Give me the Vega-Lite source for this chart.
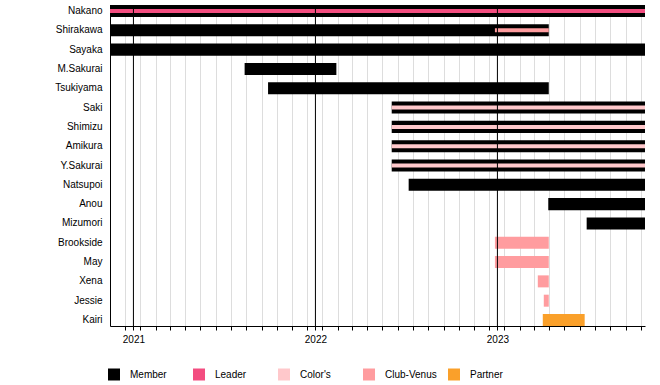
{
  "$schema": "https://vega.github.io/schema/vega-lite/v6.json",
  "width": 535,
  "height": 321,
  "autosize": {"type": "none"},
  "padding": {"left": 110, "top": 5, "right": 15, "bottom": 59},
  "background": "white",
  "config": {
    "view": {"stroke": null},
    "font": "Liberation Sans",
    "axis": {"labelFont": "Liberation Sans", "labelFontSize": 10, "labelColor": "#000"},
    "legend": {"labelFont": "Liberation Sans", "labelFontSize": 10, "labelColor": "#000"}
  },
  "datasets": {
    "membership": [
      {"name": "Nakano", "role": "Member", "start": "2020-11-15", "end": "2023-10-24"},
      {"name": "Shirakawa", "role": "Member", "start": "2020-11-15", "end": "2023-04-14"},
      {"name": "Sayaka", "role": "Member", "start": "2020-11-15", "end": "2023-10-24"},
      {"name": "M.Sakurai", "role": "Member", "start": "2021-08-12", "end": "2022-02-12"},
      {"name": "Tsukiyama", "role": "Member", "start": "2021-09-28", "end": "2023-04-14"},
      {"name": "Saki", "role": "Member", "start": "2022-06-03", "end": "2023-10-24"},
      {"name": "Shimizu", "role": "Member", "start": "2022-06-03", "end": "2023-10-24"},
      {"name": "Amikura", "role": "Member", "start": "2022-06-03", "end": "2023-10-24"},
      {"name": "Y.Sakurai", "role": "Member", "start": "2022-06-03", "end": "2023-10-24"},
      {"name": "Natsupoi", "role": "Member", "start": "2022-07-07", "end": "2023-10-24"},
      {"name": "Anou", "role": "Member", "start": "2023-04-13", "end": "2023-10-24"},
      {"name": "Mizumori", "role": "Member", "start": "2023-06-29", "end": "2023-10-24"},
      {"name": "Brookside", "role": "Club-Venus", "start": "2022-12-27", "end": "2023-04-14"},
      {"name": "May", "role": "Club-Venus", "start": "2022-12-27", "end": "2023-04-14"},
      {"name": "Xena", "role": "Club-Venus", "start": "2023-03-23", "end": "2023-04-14"},
      {"name": "Jessie", "role": "Club-Venus", "start": "2023-04-04", "end": "2023-04-14"},
      {"name": "Kairi", "role": "Partner", "start": "2023-04-02", "end": "2023-06-25"}
    ],
    "concurrent": [
      {"name": "Nakano", "role": "Leader", "start": "2020-11-15", "end": "2023-10-24"},
      {"name": "Shirakawa", "role": "Club-Venus", "start": "2022-12-27", "end": "2023-04-14"},
      {"name": "Saki", "role": "Color's", "start": "2022-06-03", "end": "2023-10-24"},
      {"name": "Shimizu", "role": "Color's", "start": "2022-06-03", "end": "2023-10-24"},
      {"name": "Amikura", "role": "Color's", "start": "2022-06-03", "end": "2023-10-24"},
      {"name": "Y.Sakurai", "role": "Color's", "start": "2022-06-03", "end": "2023-10-24"}
    ],
    "years": [
      {"year": "2021-01-01"},
      {"year": "2022-01-01"},
      {"year": "2023-01-01"}
    ]
  },
  "layer": [
    {
      "data": {"name": "membership"},
      "mark": {"type": "bar", "cornerRadius": 0},
      "encoding": {
        "x": {
          "field": "start", "type": "temporal", "title": null,
          "scale": {"type": "utc", "domain": [1605398400000, 1698105600000]},
          "axis": {
            "values": [
              1607990400000, 1609459200000,
              1610668800000, 1613347200000, 1615766400000, 1618444800000, 1621036800000, 1623715200000,
              1626307200000, 1628985600000, 1631664000000, 1634256000000, 1636934400000, 1639526400000,
              1640995200000,
              1642204800000, 1644883200000, 1647302400000, 1649980800000, 1652572800000, 1655251200000,
              1657843200000, 1660521600000, 1663200000000, 1665792000000, 1668470400000, 1671062400000,
              1672531200000,
              1673740800000, 1676419200000, 1678838400000, 1681516800000, 1684108800000, 1686787200000,
              1689379200000, 1692057600000, 1694736000000, 1697328000000
            ],
            "tickCount": 200,
            "labelExpr": "utcFormat(datum.value, '%d') == '01' ? utcFormat(datum.value, '%Y') : ''",
            "labelFlush": false,
            "labelOverlap": false,
            "grid": true,
            "gridColor": "#dddddd",
            "gridWidth": 1,
            "domainColor": "#000",
            "tickColor": "#000",
            "tickSize": 4,
            "labelPadding": 4
          }
        },
        "x2": {"field": "end"},
        "y": {
          "field": "name", "type": "nominal", "title": null,
          "scale": {
            "domain": ["Nakano", "Shirakawa", "Sayaka", "M.Sakurai", "Tsukiyama", "Saki", "Shimizu", "Amikura", "Y.Sakurai", "Natsupoi", "Anou", "Mizumori", "Brookside", "May", "Xena", "Jessie", "Kairi"],
            "paddingInner": 0.3786,
            "paddingOuter": 0
          },
          "axis": {"ticks": false, "tickSize": 0, "labelPadding": 8, "domainColor": "#000", "grid": false}
        },
        "color": {
          "field": "role", "type": "nominal",
          "scale": {
            "domain": ["Member", "Leader", "Color's", "Club-Venus", "Partner"],
            "range": ["#000000", "#f34d80", "#ffc8cb", "#ff9c9f", "#faa02a"]
          },
          "legend": {
            "title": null,
            "orient": "none",
            "direction": "horizontal",
            "legendX": -2,
            "legendY": 363.5,
            "padding": 0,
            "symbolType": "square",
            "symbolSize": 144,
            "symbolStrokeWidth": 0,
            "symbolOpacity": 1,
            "labelOffset": 10,
            "gridAlign": "all",
            "columnPadding": 11
          }
        }
      }
    },
    {
      "data": {"name": "concurrent"},
      "mark": {"type": "bar", "height": 4, "cornerRadius": 0},
      "encoding": {
        "x": {"field": "start", "type": "temporal", "title": null},
        "x2": {"field": "end"},
        "y": {"field": "name", "type": "nominal", "title": null},
        "color": {"field": "role", "type": "nominal"}
      }
    },
    {
      "data": {"name": "years"},
      "mark": {"type": "rule", "color": "#000", "strokeWidth": 1},
      "encoding": {
        "x": {"field": "year", "type": "temporal", "title": null}
      }
    }
  ]
}
